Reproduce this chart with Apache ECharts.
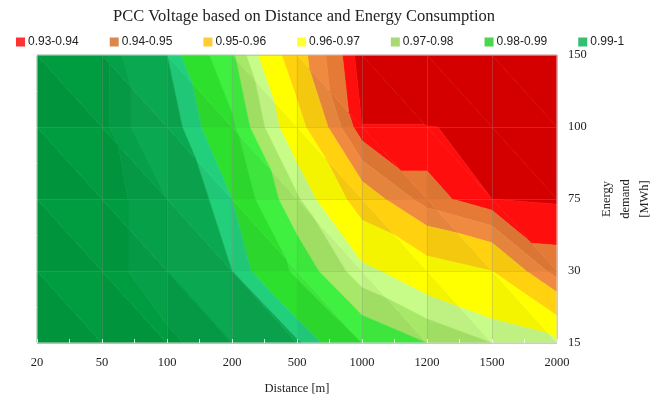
<!DOCTYPE html>
<html><head><meta charset="utf-8">
<script src="https://cdn.jsdelivr.net/npm/echarts@6/dist/echarts.min.js"></script>
<style>html,body{margin:0;padding:0;background:#fff}#c{width:655px;height:403px}</style>
</head><body><div id="c"></div>
<script>
// ---- data ----
const distances = ['20', '50', '100', '200', '500', '1000', '1200', '1500', '2000'];
const demands = ['15', '30', '75', '100', '150'];
// PCC voltage (p.u.) per energy-demand row, one value per distance
const v15  = [1.000, 1.000, 0.999, 0.997, 0.993, 0.985, 0.980, 0.975, 0.9715];
const v30  = [1.000, 0.9995, 0.997, 0.9925, 0.984, 0.972, 0.965, 0.960, 0.941];
const v75  = [1.000, 0.9995, 0.997, 0.990, 0.976, 0.955, 0.941, 0.9345, 0.934];
const v100 = [1.000, 0.999, 0.9945, 0.986, 0.964, 0.9346, 0.9346, 0.934, 0.930];
const v150 = [1.000, 0.999, 0.9925, 0.981, 0.9535, 0.932, 0.928, 0.928, 0.928];
const legendNames = ['0.93-0.94', '0.94-0.95', '0.95-0.96', '0.96-0.97', '0.97-0.98', '0.98-0.99', '0.99-1'];
// contour levels (upper edges of filled bands)
const levels = [0.9345, 0.9385, 0.944, 0.950, 0.960, 0.970, 0.975, 0.980, 0.985, 0.990, 0.9925, 0.997, 0.9985];

// ---- styles ----
const legendColors = ['#ff0000', '#d2691e', '#ffbf00', '#ffff00', '#92d050', '#1fcc1f', '#00b050'];
const bandColors = ['#d40000', '#ff0e0e', '#e47a36', '#f08a40', '#ffd10f', '#ffff00', '#c8fc88', '#a8e868',
  '#40f040', '#2ee02e', '#22d07c', '#0aa850', '#05a048', '#009c40'];

const rows = [v15, v30, v75, v100, v150];
const cells = [];
for (let j = 0; j < demands.length - 1; j++)
  for (let i = 0; i < distances.length - 1; i++) cells.push([i, j]);

function darken(hex, f) {
  const n = parseInt(hex.slice(1), 16);
  const r = Math.round(((n >> 16) & 255) * f), g = Math.round(((n >> 8) & 255) * f), b = Math.round((n & 255) * f);
  return 'rgb(' + r + ',' + g + ',' + b + ')';
}
function clipPoly(poly, lvl, above) {
  const out = [];
  for (let k = 0; k < poly.length; k++) {
    const a = poly[k], b = poly[(k + 1) % poly.length];
    const ina = above ? a.v >= lvl : a.v <= lvl;
    const inb = above ? b.v >= lvl : b.v <= lvl;
    if (ina) out.push(a);
    if (ina !== inb) {
      const t = (lvl - a.v) / (b.v - a.v);
      out.push({ x: a.x + t * (b.x - a.x), y: a.y + t * (b.y - a.y), v: lvl });
    }
  }
  return out;
}
function bandsOf(tri, children, shade) {
  const edges = [-Infinity].concat(levels, [Infinity]);
  for (let b = 0; b < edges.length - 1; b++) {
    let p = tri;
    if (edges[b] !== -Infinity) p = clipPoly(p, edges[b], true);
    if (p.length < 3) continue;
    if (edges[b + 1] !== Infinity) p = clipPoly(p, edges[b + 1], false);
    if (p.length < 3) continue;
    const c = (shade && b > 1) ? darken(bandColors[b], 0.955) : bandColors[b];
    children.push({
      type: 'polygon',
      shape: { points: p.map(q => [q.x, q.y]) },
      style: { fill: c, stroke: c, lineWidth: 0.6 }
    });
  }
}
function renderItem(params, api) {
  const i = api.value(0), j = api.value(1);
  const node = (a, b) => { const c = api.coord([a, b]); return { x: c[0], y: c[1], v: rows[b][a] }; };
  const tl = node(i, j + 1), tr = node(i + 1, j + 1), bl = node(i, j), br = node(i + 1, j);
  const children = [];
  bandsOf([tl, bl, br], children, true);
  bandsOf([tl, tr, br], children, false);
  return { type: 'group', children: children };
}

const serif = 'Liberation Serif';
const series = [{
  type: 'custom', renderItem: renderItem, data: cells, silent: true, z: 1,
  encode: { x: 0, y: 1 }
}];
legendNames.forEach((n, k) => series.push({ type: 'scatter', name: n, data: [], itemStyle: { color: legendColors[k] } }));

const chart = echarts.init(document.getElementById('c'), null, { renderer: 'canvas' });
chart.setOption({
  animation: false,
  title: {
    text: 'PCC Voltage based on Distance and Energy Consumption',
    left: 299, textAlign: 'center', top: 3,
    textStyle: { fontFamily: serif, fontSize: 16.5, fontWeight: 'normal', color: '#222' }
  },
  legend: {
    left: 11, top: 31, icon: 'rect', itemWidth: 9, itemHeight: 9, itemGap: 31,
    selectedMode: false,
    textStyle: { fontFamily: 'Liberation Sans', fontSize: 12, color: '#222', padding: [0, 0, 0, -2] },
    data: legendNames
  },
  grid: { left: 37, right: 98, top: 55, bottom: 60, containLabel: false, outerBoundsMode: 'none',
    show: true, borderColor: '#d4d4d4', borderWidth: 1, backgroundColor: 'transparent', z: 4 },
  xAxis: {
    type: 'value', min: 0, max: 8, interval: 1, z: 5,
    name: 'Distance [m]', nameLocation: 'middle', nameGap: 39,
    nameTextStyle: { fontFamily: serif, fontSize: 12.5, color: '#222' },
    axisLine: { show: false },
    axisTick: { show: true, inside: true, length: 4, lineStyle: { color: 'rgba(255,255,255,0.8)' } },
    minorTick: { show: true, splitNumber: 2, length: 4, lineStyle: { color: 'rgba(255,255,255,0.8)' } },
    axisLabel: { formatter: v => distances[v], margin: 13, fontFamily: serif, fontSize: 12.5, color: '#222' },
    splitLine: { show: true, lineStyle: { color: 'rgba(150,150,150,0.3)', width: 1 } }
  },
  yAxis: {
    type: 'value', position: 'right', min: 0, max: 4, interval: 1, z: 5,
    name: 'Energy\ndemand\n[MWh]', nameLocation: 'middle', nameGap: 24, nameRotate: 90,
    nameTextStyle: { fontFamily: serif, fontSize: 12.5, color: '#222', lineHeight: 19 },
    axisLine: { show: false },
    axisTick: { show: true, inside: true, length: 4, lineStyle: { color: 'rgba(255,255,255,0.8)' } },
    minorTick: { show: true, splitNumber: 2, length: 4, lineStyle: { color: 'rgba(255,255,255,0.8)' } },
    axisLabel: { formatter: v => demands[v], margin: 11, fontFamily: serif, fontSize: 12.5, color: '#222' },
    splitLine: { show: true, lineStyle: { color: 'rgba(150,150,150,0.3)', width: 1 } }
  },
  series: series
});
</script>
</body></html>
